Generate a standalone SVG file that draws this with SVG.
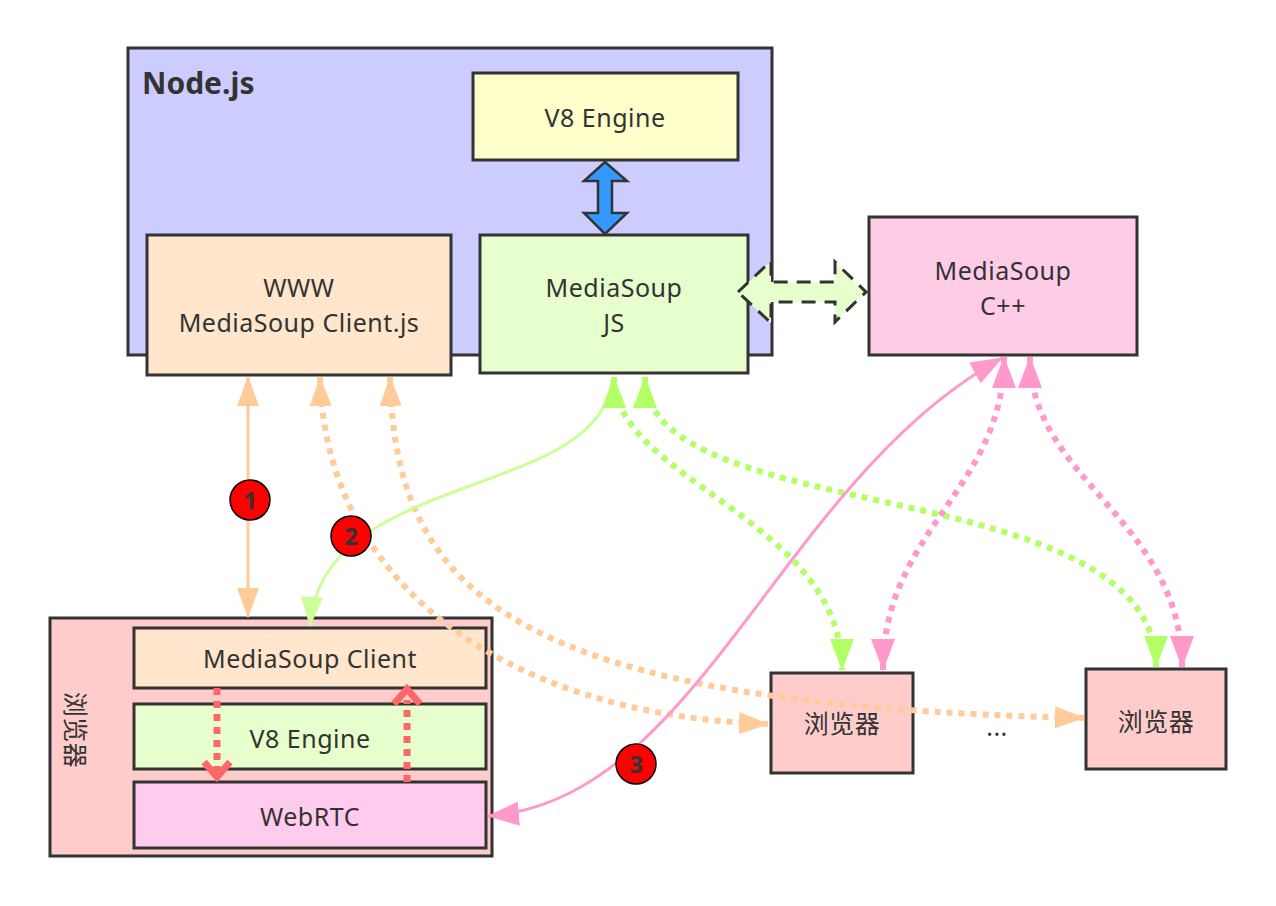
<svg xmlns="http://www.w3.org/2000/svg" width="1276" height="906" viewBox="0 0 1276 906">
<defs>
<style>
.box{stroke:#333;stroke-width:3}
.t{font-family:"Noto Sans","Noto Sans CJK SC",sans-serif;font-size:25px;letter-spacing:0.5px;fill:#333;text-anchor:middle}
.num{font-family:"Noto Sans",sans-serif;font-size:24px;fill:#333;text-anchor:middle;font-weight:bold}
.badge{fill:#ff0000;stroke:#000;stroke-width:1.5}
.or{fill:none;stroke:#ffcc99}
.gr{fill:none;stroke:#b3ff66}
.pk{fill:none;stroke:#ff99cc}
.dot{stroke-width:6;stroke-dasharray:6 6}
</style>
<marker id="aO" markerUnits="userSpaceOnUse" viewBox="0 0 30 22" markerWidth="30" markerHeight="22" refX="29" refY="11" orient="auto-start-reverse"><path d="M0,0 L30,11 L0,22 z" fill="#ffcc99"/></marker>
<marker id="aG" markerUnits="userSpaceOnUse" viewBox="0 0 32 24" markerWidth="32" markerHeight="24" refX="31" refY="12" orient="auto-start-reverse"><path d="M0,0 L32,12 L0,24 z" fill="#b3ff66"/></marker>
<marker id="aL" markerUnits="userSpaceOnUse" viewBox="0 0 30 22" markerWidth="30" markerHeight="22" refX="29" refY="11" orient="auto-start-reverse"><path d="M0,0 L30,11 L0,22 z" fill="#ccff99"/></marker>
<marker id="aP" markerUnits="userSpaceOnUse" viewBox="0 0 32 24" markerWidth="32" markerHeight="24" refX="31" refY="12" orient="auto-start-reverse"><path d="M0,0 L32,12 L0,24 z" fill="#ff99cc"/></marker>
</defs>
<rect width="1276" height="906" fill="#fff"/>

<g id="nodejs">
<rect class="box" x="128" y="48" width="644" height="307" fill="#ccccff"/>
<text x="142" y="94" font-family="'Noto Sans',sans-serif" font-size="30" font-weight="bold" fill="#333">Node.js</text>
</g>
<g id="v8-engine">
<rect class="box" x="473" y="73" width="265" height="87" fill="#ffffcc"/>
<text class="t" x="605" y="127">V8 Engine</text>
</g>
<g id="www-client">
<rect class="box" x="147" y="235" width="304" height="140" fill="#ffe6cc"/>
<text class="t" x="299" y="297">WWW</text>
<text class="t" x="299" y="332">MediaSoup Client.js</text>
</g>
<g id="mediasoup-js">
<rect class="box" x="480" y="235" width="268" height="138" fill="#e6ffcc"/>
<text class="t" x="614" y="297">MediaSoup</text>
<text class="t" x="614" y="332">JS</text>
</g>
<g id="mediasoup-cpp">
<rect class="box" x="869" y="217" width="268" height="138" fill="#ffcce6"/>
<text class="t" x="1003" y="280">MediaSoup</text>
<text class="t" x="1003" y="315">C++</text>
</g>
<g id="browser-main">
<rect class="box" x="50" y="618" width="442" height="238" fill="#ffcccc"/>
<text class="t" transform="translate(75,730) rotate(90)" y="9">浏览器</text>
</g>
<g id="ms-client">
<rect class="box" x="134" y="628" width="352" height="60" fill="#ffe6cc"/>
<text class="t" x="310" y="668">MediaSoup Client</text>
</g>
<g id="v8-inner">
<rect class="box" x="134" y="704" width="352" height="65" fill="#e6ffcc"/>
<text class="t" x="310" y="748">V8 Engine</text>
</g>
<g id="webrtc">
<rect class="box" x="134" y="782" width="352" height="66" fill="#ffccee"/>
<text class="t" x="310" y="826">WebRTC</text>
</g>
<g id="browser-1">
<rect class="box" x="771" y="673" width="142" height="100" fill="#ffcccc"/>
<text class="t" x="842" y="733">浏览器</text>
</g>
<g id="ellipsis">
<text class="t" x="997" y="736" font-size="16">...</text>
</g>
<g id="browser-2">
<rect class="box" x="1086" y="669" width="140" height="100" fill="#ffcccc"/>
<text class="t" x="1156" y="731">浏览器</text>
</g>

<g id="connectors">
<polygon points="605,162 627,181 612,181 612,213 627,213 605,234 584,213 598,213 598,181 584,181" fill="#3399ff" stroke="#333" stroke-width="2.5" stroke-linejoin="miter"/>
<polygon points="738,292 771,261 771,282 835,282 835,262 866,292 835,322 835,302 771,302 771,323" fill="#e6ffcc" stroke="#333" stroke-width="3" stroke-dasharray="14 9"/>
<path class="or" stroke-width="3" d="M248,377 L248,617" marker-start="url(#aO)" marker-end="url(#aO)"/>
<path class="or dot" d="M320,377 C325,580 500,715 768,724" marker-start="url(#aO)" marker-end="url(#aO)"/>
<path class="or dot" d="M390,377 C395,600 520,705 1084,718" marker-start="url(#aO)" marker-end="url(#aO)"/>
<path fill="none" stroke="#ccff99" stroke-width="3" d="M612,380 C600,500 320,470 310,626" marker-end="url(#aL)"/>
<path class="gr dot" d="M614,377 C614,480 842,520 842,670" marker-start="url(#aG)" marker-end="url(#aG)"/>
<path class="gr dot" d="M645,377 C645,530 1156,470 1156,667" marker-start="url(#aG)" marker-end="url(#aG)"/>
<path class="pk" stroke-width="3" d="M488,816 C700,800 780,480 1002,358" marker-start="url(#aP)" marker-end="url(#aP)"/>
<path class="pk dot" stroke-width="5" d="M1004,357 C1004,490 883,530 883,670" marker-start="url(#aP)" marker-end="url(#aP)"/>
<path class="pk dot" stroke-width="5" d="M1030,357 C1030,480 1182,520 1182,667" marker-start="url(#aP)" marker-end="url(#aP)"/>
<g fill="none" stroke="#ff6666" stroke-width="7">
<path d="M217,688 L217,770" stroke-dasharray="7 6"/>
<path d="M204,762 L217,777 L230,762"/>
<path d="M407,782 L407,700" stroke-dasharray="7 6"/>
<path d="M394,704 L407,689 L420,704"/>
</g>
</g>

<g id="badges">
<circle class="badge" cx="250" cy="500" r="20"/>
<text class="num" x="250" y="509">1</text>
<circle class="badge" cx="351" cy="536" r="20"/>
<text class="num" x="351" y="545">2</text>
<circle class="badge" cx="636" cy="764" r="20"/>
<text class="num" x="636" y="773" font-weight="normal">3</text>
</g>
</svg>
